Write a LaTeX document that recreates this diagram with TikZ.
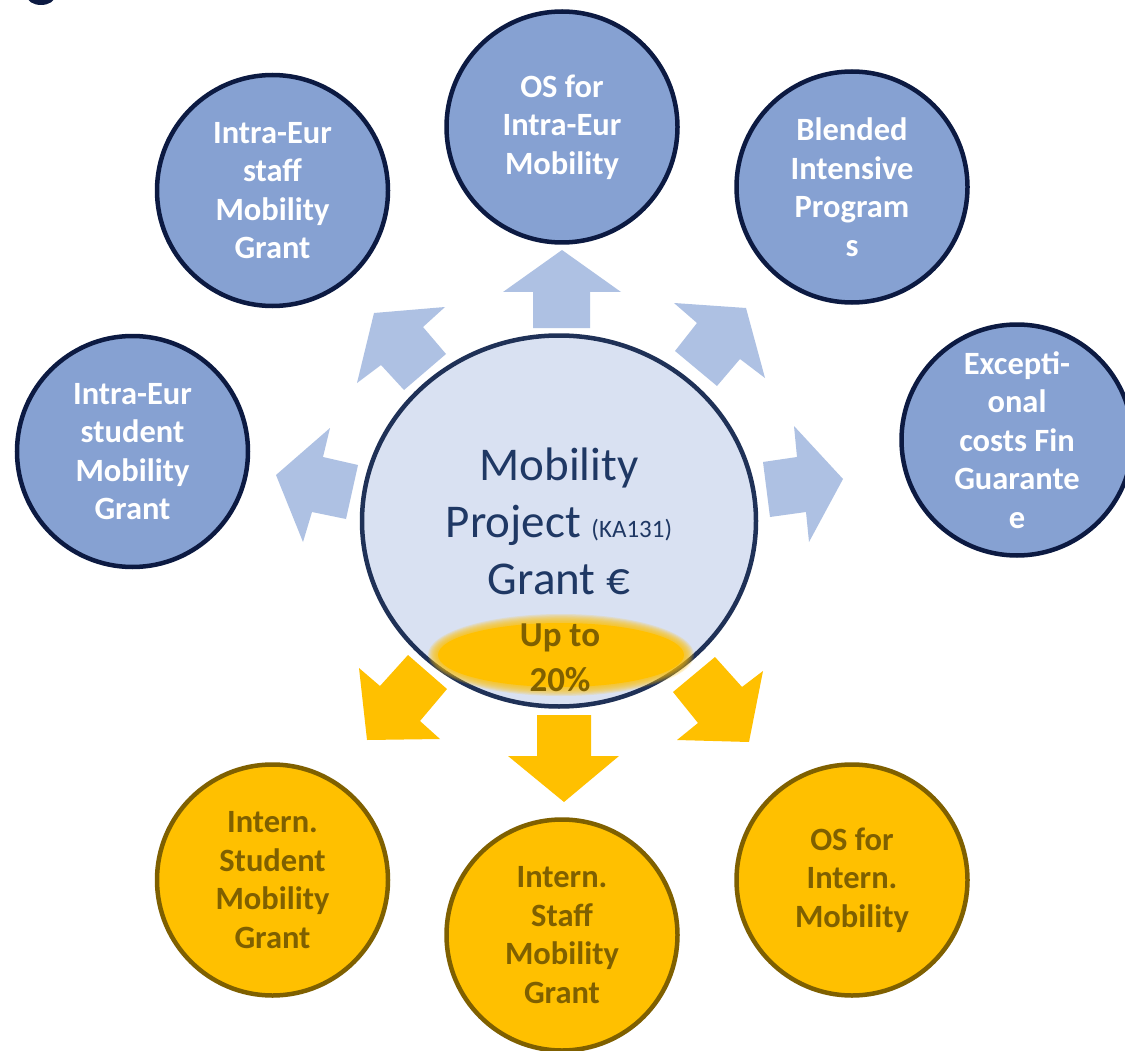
\documentclass[tikz,border=0pt]{standalone}
\usepackage{fontspec}
\setmainfont{Carlito}
\usetikzlibrary{shapes.geometric}
\definecolor{bluefill}{HTML}{86A1D2}
\definecolor{blueline}{HTML}{0C1A42}
\definecolor{arrowblue}{HTML}{AEC1E3}
\definecolor{gold}{HTML}{FFC000}
\definecolor{goldline}{HTML}{7F6000}
\definecolor{hubfill}{HTML}{D9E1F2}
\definecolor{hubline}{HTML}{1F3157}
\definecolor{hubtext}{HTML}{1F3864}
\begin{document}
\begin{tikzpicture}[x=1pt,y=-1pt,
  circbase/.style={circle, line width=4.5pt, minimum size=231pt, inner sep=0pt,
    align=center, font=\bfseries\fontsize{32.5}{38.5}\selectfont},
  bluecirc/.style={circbase, draw=blueline, fill=bluefill, text=white},
  goldcirc/.style={circbase, draw=goldline, fill=gold, text=goldline},
  bluearrow/.style={fill=arrowblue},
  goldarrow/.style={fill=gold}]
\useasboundingbox (0,0) rectangle (1125,1051);
\clip (0,0) rectangle (1125,1051);
\fill[white] (0,0) rectangle (1125,1051);

% fragment of a dark letter at the top-left edge
\fill[blueline] (41,-4) ellipse (14 and 9);

% block arrows (blue)
\fill[bluearrow] (533,328) -- (533,292) -- (503,292) -- (562,250) -- (621,292) -- (590,292) -- (590,328) -- cycle;
\fill[bluearrow] (374,313) -- (445,307) -- (423,327) -- (446,354) -- (404,390) -- (381,365) -- (357,383) -- cycle;
\fill[bluearrow] (276,475) -- (330,428) -- (323,457) -- (358,465) -- (346,519) -- (312,512) -- (303,542) -- cycle;
\fill[bluearrow] (674,303) -- (746,308) -- (765,378) -- (740,359) -- (717,386) -- (675,351) -- (697,323) -- cycle;
\fill[bluearrow] (843,479) -- (794,426) -- (797,457) -- (763,462) -- (770,517) -- (806,512) -- (809,542) -- cycle;

% block arrows (gold)
\fill[goldarrow] (367,740) -- (359,668) -- (380,686) -- (408,655) -- (447,689) -- (420,721) -- (440,739) -- cycle;
\fill[goldarrow] (537,715) -- (591,715) -- (591,756) -- (619,756) -- (564,802) -- (508,756) -- (537,756) -- cycle;
\fill[goldarrow] (749,742) -- (763,671) -- (742,687) -- (715,657) -- (673,692) -- (698,723) -- (677,740) -- cycle;

% central hub
\node[ellipse, draw=hubline, fill=hubfill, line width=4.5pt, minimum width=394pt, minimum height=371pt,
      inner sep=0pt, align=center, text=hubtext, font=\fontsize{47}{57}\selectfont] (hub) at (559,521)
      {Mobility\\Project {\fontsize{25}{25}\selectfont (KA131)}\\Grant €};

% glow
\foreach \k in {0,...,7}
  \fill[gold, opacity=0.16] (561,655) ellipse ({133-\k*1.2} and {41-\k*1.1});
\fill[gold] (561,655) ellipse (123 and 32);
\node[align=center, text=goldline, font=\bfseries\fontsize{35}{45}\selectfont, inner sep=0pt] (share) at (560,657.5) {Up to\\20\%};

% outer circles
\node[bluecirc] (sstud) at (132.5,451.5) {Intra-Eur\\student\\Mobility\\Grant};
\node[bluecirc] (sstaff) at (272.5,190.5) {Intra-Eur\\staff\\Mobility\\Grant};
\node[bluecirc] (osintra) at (562,127) {OS for\\Intra-Eur\\Mobility};
\node[bluecirc] (blend) at (852,187) {Blended\\Intensive\\Program\\s};
\node[bluecirc] (except) at (1017,440) {Excepti-\\onal\\costs Fin\\Guarante\\e};
\node[goldcirc] (istud) at (272.5,880) {Intern.\\Student\\Mobility\\Grant};
\node[goldcirc] (istaff) at (562,935) {Intern.\\Staff\\Mobility\\Grant};
\node[goldcirc] (osintern) at (852,880) {OS for\\Intern.\\Mobility};
\end{tikzpicture}
\end{document}
